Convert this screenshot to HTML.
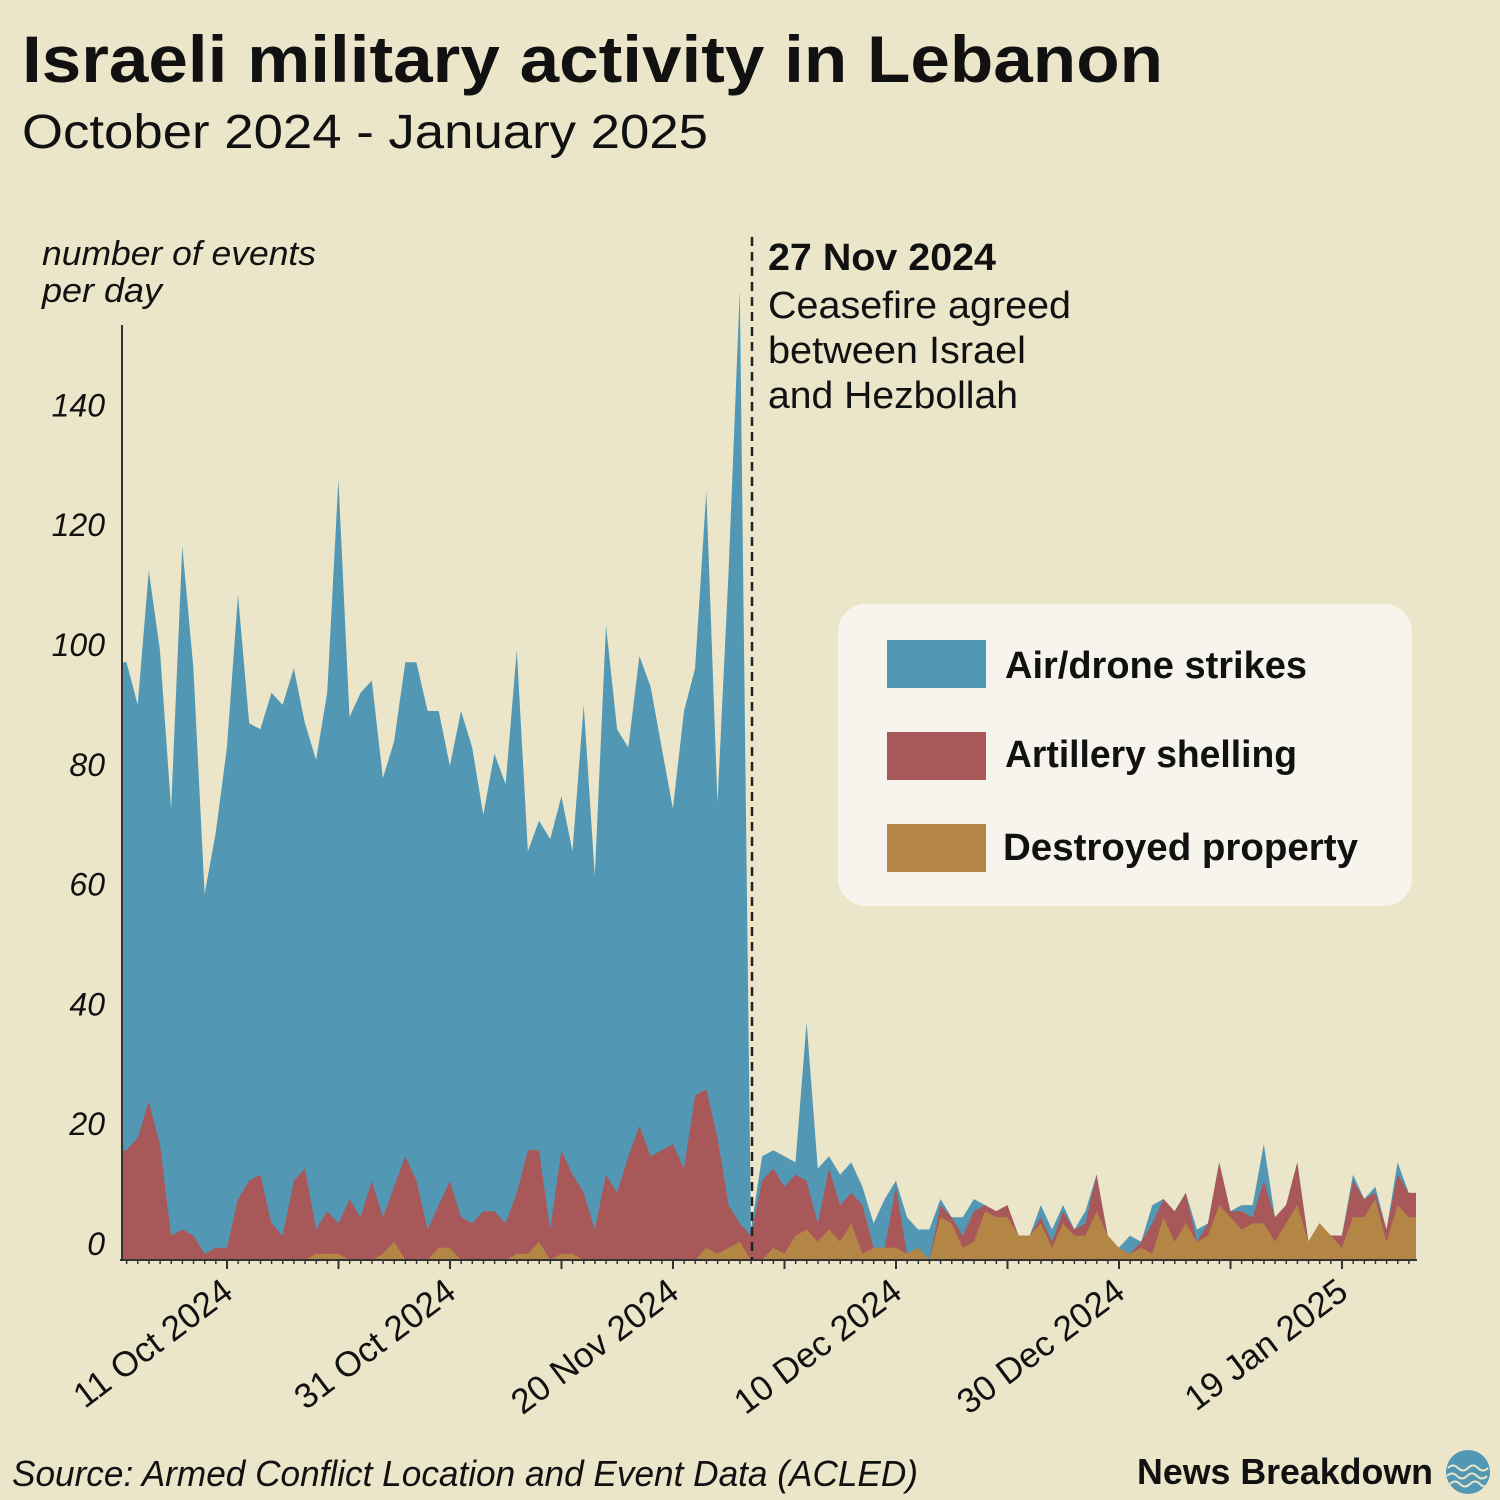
<!DOCTYPE html>
<html><head><meta charset="utf-8"><style>
html,body{margin:0;padding:0;background:#ebe6c9;}
svg{display:block;font-family:"Liberation Sans",sans-serif;}
</style></head><body>
<svg id="chart" width="1500" height="1500" viewBox="0 0 1500 1500">
<rect x="0" y="0" width="1500" height="1500" fill="#ebe6c9"/>
<text x="22" y="82" font-size="66" font-weight="bold" fill="#111" textLength="1141" lengthAdjust="spacingAndGlyphs">Israeli military activity in Lebanon</text>
<text x="22" y="148" font-size="48" fill="#111" textLength="686" lengthAdjust="spacingAndGlyphs">October 2024 - January 2025</text>
<text x="42" y="265" font-size="34" font-style="italic" fill="#111" textLength="274" lengthAdjust="spacingAndGlyphs">number of events</text>
<text x="42" y="302" font-size="34" font-style="italic" fill="#111" textLength="120" lengthAdjust="spacingAndGlyphs">per day</text>
<defs><clipPath id="plotclip"><rect x="122" y="150" width="1294" height="1110"/></clipPath></defs>
<g id="areas" clip-path="url(#plotclip)"></g>
<g id="axes"></g>
<line x1="752" y1="237" x2="752" y2="1260" stroke="#222" stroke-width="2.5" stroke-dasharray="9,6"/>
<text x="768" y="270" font-size="38" font-weight="bold" fill="#111" textLength="228" lengthAdjust="spacingAndGlyphs">27 Nov 2024</text>
<text x="768" y="318" font-size="38" fill="#111" textLength="303" lengthAdjust="spacingAndGlyphs">Ceasefire agreed</text>
<text x="768" y="363" font-size="38" fill="#111" textLength="258" lengthAdjust="spacingAndGlyphs">between Israel</text>
<text x="768" y="408" font-size="38" fill="#111" textLength="250" lengthAdjust="spacingAndGlyphs">and Hezbollah</text>
<g>
<rect x="838" y="604" width="574" height="302" rx="28" fill="#f6f4ec"/>
<rect x="887" y="640" width="99" height="48" fill="#5298b5"/>
<text x="1005" y="678" font-size="38" font-weight="bold" fill="#111" textLength="302" lengthAdjust="spacingAndGlyphs">Air/drone strikes</text>
<rect x="887" y="732" width="99" height="48" fill="#a85858"/>
<text x="1005" y="767" font-size="38" font-weight="bold" fill="#111" textLength="292" lengthAdjust="spacingAndGlyphs">Artillery shelling</text>
<rect x="887" y="824" width="99" height="48" fill="#b38646"/>
<text x="1003" y="860" font-size="38" font-weight="bold" fill="#111" textLength="355" lengthAdjust="spacingAndGlyphs">Destroyed property</text>
</g>
<text x="12" y="1486" font-size="36" font-style="italic" fill="#111" textLength="906" lengthAdjust="spacingAndGlyphs">Source: Armed Conflict Location and Event Data (ACLED)</text>
<text x="1137" y="1484" font-size="36" font-weight="bold" fill="#111" textLength="296" lengthAdjust="spacingAndGlyphs">News Breakdown</text>
<g>
<circle cx="1468" cy="1472" r="22" fill="#5298b5"/>
<path d="M1448 1468 q5 -5 10 0 t10 0 t10 0 t10 0 M1447 1476 q5 -5 10 0 t10 0 t10 0 t10 0 M1450 1484 q5 -5 10 0 t10 0 t10 0 t8 0" stroke="#ebe6c9" stroke-width="2" fill="none"/>
</g>
</svg>
<script>
const airStrikes = [98,91,113,100,74,117,97,60,70,84,109,88,87,93,91,97,88,82,93,128,89,93,95,79,85,98,98,90,90,81,90,84,73,83,78,100,67,72,69,76,67,91,63,104,87,84,99,94,84,74,90,97,126,75,113,159,5,17,18,17,16,39,15,17,14,16,12,6,10,13,7,5,5,10,7,7,10,9,8,9,4,4,9,5,9,5,8,14,4,2,4,3,9,10,8,11,5,6,16,8,9,9,19,7,9,16,3,6,4,4,14,10,12,5,16,11];
const artillery = [18,20,26,19,4,5,4,1,2,2,10,13,14,6,4,13,15,5,8,6,10,7,13,7,12,17,13,5,9,13,7,6,8,8,6,11,18,18,5,18,14,11,5,14,11,17,22,17,18,19,15,27,28,20,9,6,4,13,15,12,14,13,6,15,9,11,9,2,2,12,1,0,0,9,7,4,8,9,8,9,4,4,7,3,8,5,6,14,4,2,1,3,6,10,8,11,3,6,16,8,8,7,13,7,9,16,3,6,4,4,13,10,11,5,14,11];
const destroyed = [0,0,0,0,0,0,0,0,0,0,0,0,0,0,0,0,0,1,1,1,0,0,0,1,3,0,0,0,2,2,0,0,0,0,0,1,1,3,0,1,1,0,0,0,0,0,0,0,0,0,0,0,2,1,2,3,0,0,2,1,4,5,3,5,3,6,1,2,2,2,1,2,0,7,6,2,3,8,7,7,4,4,6,2,6,4,4,8,4,2,1,2,1,7,3,6,3,4,9,7,5,6,6,3,6,9,3,6,4,2,7,7,10,3,9,7];
const yTicks = [0,20,40,60,80,100,120,140];
const xTickDays = [10,30,50,70,90,110];
const xTickLabels = ["11 Oct 2024","31 Oct 2024","20 Nov 2024","10 Dec 2024","30 Dec 2024","19 Jan 2025"];

const NS = "http://www.w3.org/2000/svg";
const BASE = 1260;
function yScale(v){ return BASE - v*6.1; }
function yLabel(v){ return 1255 - v*5.99; }
function xData(k){ return 126.5 + 11.15*k; }
function xDay(t){ return 115.5 + 11.15*t; }
function mk(tag, attrs){ const e=document.createElementNS(NS,tag); for(const a in attrs) e.setAttribute(a,attrs[a]); return e; }

const areas = document.getElementById('areas');
function drawArea(vals, color, name){
  let d = "M122 " + BASE + " L122 " + yScale(vals[0]).toFixed(1);
  vals.forEach((v,k)=>{ d += " L" + xData(k).toFixed(1) + " " + yScale(v).toFixed(1); });
  d += " L1416 " + yScale(vals[vals.length-1]).toFixed(1) + " L1416 " + BASE + " Z";
  const p = mk('path',{d:d, fill:color});
  
  
  areas.appendChild(p);
}
drawArea(airStrikes, "#5298b5", "area-air-drone-strikes");
drawArea(artillery, "#a85858", "area-artillery-shelling");
drawArea(destroyed, "#b38646", "area-destroyed-property");

const axes = document.getElementById('axes');
const ya = mk('line',{x1:122,y1:325,x2:122,y2:BASE,stroke:"#333","stroke-width":2});


axes.appendChild(ya);
const xa = mk('line',{x1:120,y1:BASE,x2:1417,y2:BASE,stroke:"#333","stroke-width":2});


axes.appendChild(xa);

yTicks.forEach(v=>{
  const t = mk('text',{x:105,y:yLabel(v),"text-anchor":"end","font-size":32,"font-style":"italic",fill:"#111"});
  t.textContent = v;
  
  
  axes.appendChild(t);
});

for(let t=1;t<=116;t++){
  const x = xDay(t);
  if(x<122||x>1417) continue;
  const major = (t%10===0);
  const l = mk('line',{x1:x,y1:BASE,x2:x,y2:BASE+(major?9:4),stroke:"#333","stroke-width":major?2:1.5});
  
  
  axes.appendChild(l);
}
xTickDays.forEach((t,i)=>{
  const x = xDay(t)+8, y = BASE+36;
  const tx = mk('text',{x:x,y:y,"text-anchor":"end","font-size":35,fill:"#111",transform:"rotate(-37 "+x+" "+y+")"});
  tx.textContent = xTickLabels[i];
  
  
  axes.appendChild(tx);
});
</script>
</body></html>
